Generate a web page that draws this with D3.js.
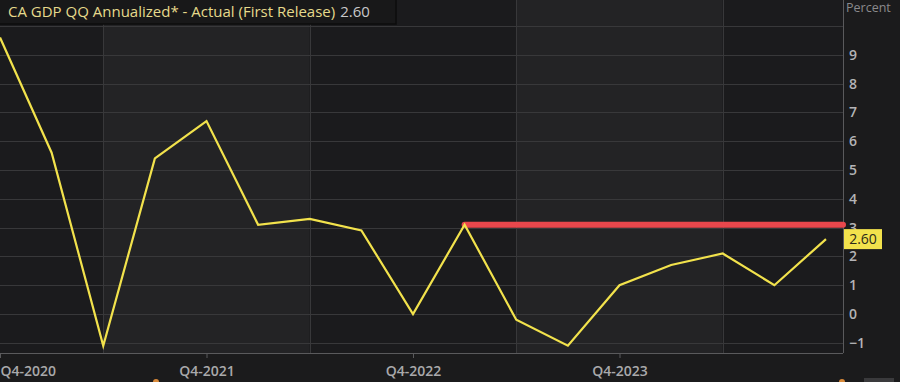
<!DOCTYPE html>
<html>
<head>
<meta charset="utf-8">
<script src="https://cdn.jsdelivr.net/npm/d3@7"></script>
<style>
  html, body { margin: 0; padding: 0; background: #1b1b1c; }
  svg { display: block; }
  text { font-family: "Open Sans", "DejaVu Sans", sans-serif; }
</style>
</head>
<body>
<div id="chart"></div>
<script>
var quarters = ["Q4-2020", "Q1-2021", "Q2-2021", "Q3-2021", "Q4-2021", "Q1-2022", "Q2-2022", "Q3-2022",
                "Q4-2022", "Q1-2023", "Q2-2023", "Q3-2023", "Q4-2023", "Q1-2024", "Q2-2024", "Q3-2024", "Q4-2024"];
var gdpValues = [9.6, 5.6, -1.1, 5.4, 6.7, 3.1, 3.3, 2.9, 0.0, 3.1, -0.2, -1.1, 1.0, 1.7, 2.1, 1.0, 2.6];
var xTickLabels = ["Q4-2020", "Q4-2021", "Q4-2022", "Q4-2023"];
var yTicks = [-1, 0, 1, 2, 3, 4, 5, 6, 7, 8, 9];
var yGrid = [-1, 0, 1, 2, 3, 4, 5, 6, 7, 8, 9, 10];
var bandEdges = ["Q2-2021", "Q2-2022", "Q2-2023", "Q2-2024"];
var refLevel = 3.1;
var refStart = "Q1-2023";
var lastValue = "2.60";

var width = 900;
var height = 382;
var axisX = 843;
var axisY = 353;

var lineColor = "#f2e24c";
var refColor = "#e8474c";

/* Scales */
var xScale = d3.scaleLinear()
  .domain([0, quarters.length - 1])
  .range([0, 826]);
var xq = q => xScale(quarters.indexOf(q));

var yScale = d3.scaleLinear()
  .domain([-1, 10])
  .range([342.8, 26]);

var svg = d3.select("#chart").append("svg")
  .attr("width", width)
  .attr("height", height);

svg.append("rect")
  .attr("width", width).attr("height", height)
  .attr("fill", "#1b1b1c");

/* alternating bands */
var edges = [0].concat(bandEdges.map(xq), [axisX]);
svg.append("g").selectAll("rect")
  .data(d3.pairs(edges)).enter()
  .append("rect")
  .attr("x", d => d[0])
  .attr("y", 0)
  .attr("width", d => d[1] - d[0])
  .attr("height", axisY)
  .attr("fill", (d, i) => i % 2 ? "#232325" : "#1b1b1d");

/* gridlines */
svg.append("g").selectAll("line")
  .data(yGrid).enter()
  .append("line")
  .attr("x1", 0).attr("x2", axisX)
  .attr("y1", d => Math.round(yScale(d)) + 0.5)
  .attr("y2", d => Math.round(yScale(d)) + 0.5)
  .attr("stroke", "#38383a")
  .attr("stroke-width", 1);

svg.append("g").selectAll("line")
  .data(bandEdges).enter()
  .append("line")
  .attr("x1", d => Math.round(xq(d)) + 0.5)
  .attr("x2", d => Math.round(xq(d)) + 0.5)
  .attr("y1", 0).attr("y2", axisY)
  .attr("stroke", "#38383a");

/* axes */
var yAxis = d3.axisRight(yScale).tickValues(yTicks).tickSize(0).tickPadding(6).tickFormat(d3.format("d"));
var yg = svg.append("g")
  .attr("transform", `translate(${axisX}, 0)`)
  .call(yAxis);
yg.select(".domain").attr("stroke", "#5a5a5c").attr("d", `M0.5,0V${axisY}`);
yg.selectAll("text")
  .attr("fill", "#b4b4b6")
  .attr("font-size", "14px")
  .attr("font-weight", 600);

var xAxis = d3.axisBottom(xScale)
  .tickValues(xTickLabels.map(q => quarters.indexOf(q)))
  .tickFormat(i => quarters[i])
  .tickSize(5).tickPadding(8);
var xg = svg.append("g")
  .attr("transform", `translate(0, ${axisY})`)
  .call(xAxis);
xg.select(".domain").attr("stroke", "#5a5a5c").attr("d", `M0,0.5H${axisX}`);
xg.selectAll(".tick line").attr("stroke", "#5a5a5c");
xg.selectAll("text")
  .attr("fill", "#a9a9ab")
  .attr("font-size", "14px")
  .attr("font-weight", 600)
  .attr("text-anchor", (d, i) => i === 0 ? "start" : "middle");

svg.append("text")
  .attr("x", 846).attr("y", 12)
  .attr("fill", "#8a8a8c")
  .attr("font-size", "12.5px")
  .text("Percent");

/* reference line */
svg.append("line")
  .attr("x1", xq(refStart)).attr("x2", axisX)
  .attr("y1", yScale(refLevel)).attr("y2", yScale(refLevel))
  .attr("stroke", refColor)
  .attr("stroke-width", 6)
  .attr("stroke-linecap", "round");

/* data line */
var line = d3.line()
  .x((d, i) => xScale(i))
  .y(d => yScale(d));

svg.append("path")
  .datum(gdpValues)
  .attr("d", line)
  .attr("fill", "none")
  .attr("stroke", lineColor)
  .attr("stroke-width", 2.2)
  .attr("stroke-linejoin", "miter");

/* last value tag */
var lastY = yScale(gdpValues[gdpValues.length - 1]);
svg.append("rect")
  .attr("x", axisX + 1).attr("y", lastY - 10)
  .attr("width", 38).attr("height", 20)
  .attr("fill", "#f2e24c");
svg.append("text")
  .attr("x", axisX + 20).attr("y", lastY + 5)
  .attr("text-anchor", "middle")
  .attr("fill", "#2a2a1a")
  .attr("font-size", "14px")
  .text(lastValue);

/* title box */
svg.append("rect")
  .attr("x", -1).attr("y", -1)
  .attr("width", 397).attr("height", 25)
  .attr("fill", "#181819")
  .attr("stroke", "#0c0c0c")
  .attr("stroke-width", 1.5);
var title = svg.append("text")
  .attr("x", 8).attr("y", 17)
  .attr("font-size", "15px");
title.append("tspan")
  .attr("fill", "#e6da8c")
  .text("CA GDP QQ Annualized* - Actual (First Release)");
title.append("tspan")
  .attr("fill", "#c8c8ca")
  .attr("dx", 5)
  .text(lastValue);

/* partial widgets cut off at the bottom edge */
svg.append("circle").attr("cx", 156).attr("cy", 382).attr("r", 3).attr("fill", "#d98a3a");
svg.append("circle").attr("cx", 842).attr("cy", 382).attr("r", 3).attr("fill", "#d98a3a");
svg.append("rect").attr("x", 864).attr("y", 378).attr("width", 30).attr("height", 6)
  .attr("fill", "#3a3a3c");
</script>
</body>
</html>
